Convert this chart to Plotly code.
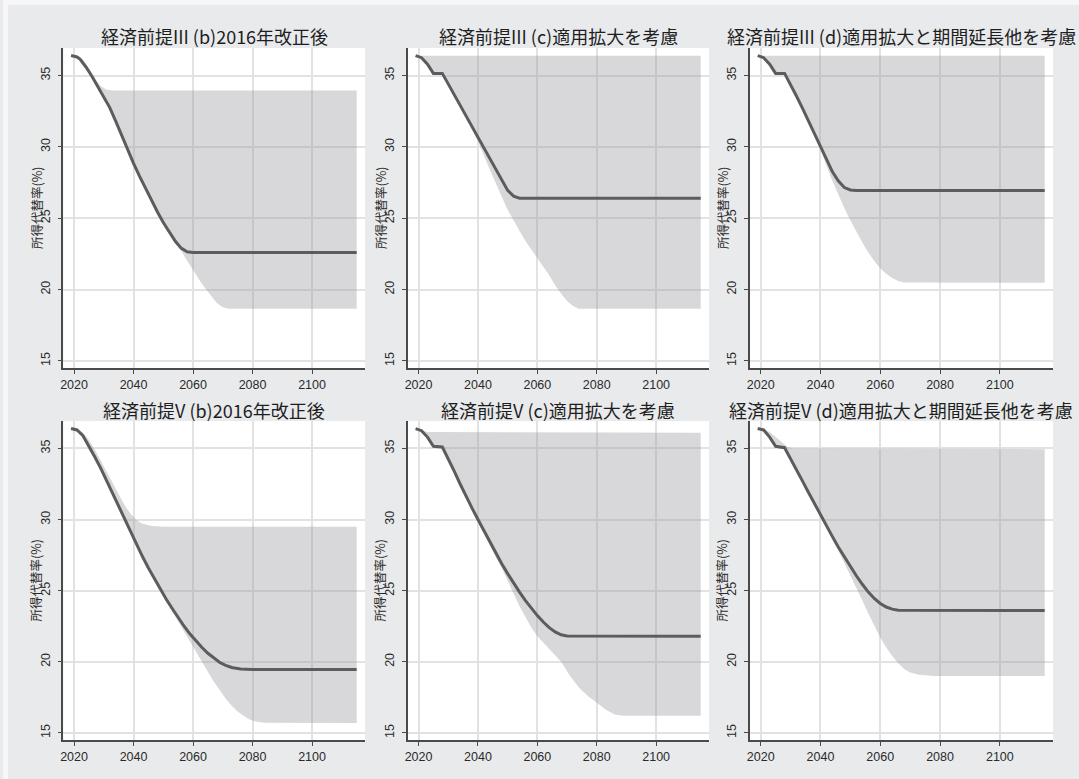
import plotly.graph_objects as go

W, H = 1079, 779

TITLES = [
    "経済前提III (b)2016年改正後",
    "経済前提III (c)適用拡大を考慮",
    "経済前提III (d)適用拡大と期間延長他を考慮",
    "経済前提V (b)2016年改正後",
    "経済前提V (c)適用拡大を考慮",
    "経済前提V (d)適用拡大と期間延長他を考慮",
]
Y_TITLE = "所得代替率(%)"
X_TICKS = [2020, 2040, 2060, 2080, 2100]
Y_TICKS = [15, 20, 25, 30, 35]

# ---- Panel 1: III (b)
P1_LINE_X = [2019, 2021, 2022, 2024, 2026, 2028, 2030, 2032, 2034, 2036, 2038, 2040, 2042, 2044, 2046, 2048, 2050, 2052, 2054, 2056, 2058, 2060, 2115]
P1_LINE_Y = [36.4, 36.3, 36.15, 35.6, 34.95, 34.25, 33.5, 32.75, 31.8, 30.8, 29.8, 28.85, 27.95, 27.1, 26.25, 25.45, 24.7, 24.0, 23.4, 22.9, 22.65, 22.6, 22.6]
P1_UP_X = [2019, 2021, 2023, 2025, 2027, 2029, 2031, 2033, 2115]
P1_UP_Y = [36.4, 36.35, 36.1, 35.5, 34.8, 34.25, 34.0, 33.95, 33.95]
P1_LO_X = [2019, 2021, 2022, 2024, 2026, 2028, 2030, 2032, 2034, 2036, 2038, 2040, 2042, 2044, 2046, 2048, 2050, 2052, 2054, 2056, 2058, 2060, 2062, 2064, 2066, 2068, 2070, 2072, 2115]
P1_LO_Y = [36.35, 36.2, 36.05, 35.5, 34.85, 34.15, 33.4, 32.65, 31.7, 30.7, 29.7, 28.75, 27.85, 27.0, 26.15, 25.35, 24.6, 23.9, 23.25, 22.7, 22.1, 21.4, 20.7, 20.1, 19.55, 19.05, 18.75, 18.65, 18.65]

# ---- Panel 2: III (c)
P2_LINE_X = [2019, 2021, 2023, 2025, 2028, 2030, 2032, 2034, 2036, 2038, 2040, 2042, 2044, 2046, 2048, 2050, 2052, 2054, 2115]
P2_LINE_Y = [36.4, 36.25, 35.8, 35.15, 35.15, 34.4, 33.65, 32.9, 32.1, 31.35, 30.6, 29.85, 29.1, 28.35, 27.6, 26.95, 26.55, 26.4, 26.4]
P2_UP_X = [2019, 2115]
P2_UP_Y = [36.38, 36.38]
P2_LO_X = [2019, 2021, 2023, 2025, 2028, 2030, 2032, 2034, 2036, 2038, 2040, 2042, 2044, 2046, 2048, 2050, 2052, 2054, 2056, 2058, 2060, 2062, 2064, 2066, 2068, 2070, 2072, 2074, 2115]
P2_LO_Y = [36.35, 36.15, 35.7, 35.05, 35.05, 34.3, 33.55, 32.8, 32.0, 31.2, 30.4, 29.4, 28.4, 27.4, 26.5, 25.6, 24.8, 24.1, 23.4, 22.8, 22.2, 21.6, 21.0, 20.3, 19.7, 19.2, 18.85, 18.65, 18.65]

# ---- Panel 3: III (d)
P3_LINE_X = [2019, 2021, 2023, 2025, 2028, 2030, 2032, 2034, 2036, 2038, 2040, 2042, 2044, 2046, 2048, 2050, 2052, 2115]
P3_LINE_Y = [36.4, 36.25, 35.8, 35.15, 35.15, 34.4, 33.55, 32.7, 31.8, 30.9, 30.0, 29.1, 28.25, 27.6, 27.15, 26.98, 26.95, 26.95]
P3_UP_X = [2019, 2115]
P3_UP_Y = [36.38, 36.38]
P3_LO_X = [2019, 2021, 2023, 2025, 2028, 2030, 2032, 2034, 2036, 2038, 2040, 2042, 2044, 2046, 2048, 2050, 2052, 2054, 2056, 2058, 2060, 2062, 2064, 2066, 2068, 2115]
P3_LO_Y = [36.35, 36.15, 35.7, 35.05, 35.05, 34.3, 33.45, 32.6, 31.7, 30.8, 29.85, 28.7, 27.6, 26.6, 25.7, 24.85, 24.05, 23.3, 22.6, 22.0, 21.5, 21.1, 20.8, 20.6, 20.5, 20.48]

# ---- Panel 4: V (b)
P4_LINE_X = [2019, 2021, 2023, 2025, 2027, 2029, 2031, 2033, 2035, 2037, 2039, 2041, 2043, 2045, 2047, 2049, 2051, 2053, 2055, 2057, 2059, 2061, 2063, 2065, 2067, 2069, 2071, 2073, 2076, 2080, 2115]
P4_LINE_Y = [36.4, 36.3, 35.9, 35.2, 34.4, 33.6, 32.7, 31.8, 30.9, 30.0, 29.1, 28.25, 27.4, 26.6, 25.85, 25.1, 24.4, 23.75, 23.1, 22.5, 21.95, 21.45, 21.0, 20.6, 20.25, 19.95, 19.75, 19.6, 19.5, 19.45, 19.45]
P4_UP_X = [2019, 2021, 2023, 2025, 2027, 2029, 2031, 2033, 2035, 2037, 2039, 2041, 2043, 2046, 2050, 2115]
P4_UP_Y = [36.4, 36.35, 36.1, 35.6, 34.9, 34.1, 33.3, 32.5, 31.7, 31.0, 30.4, 29.95, 29.7, 29.55, 29.5, 29.5]
P4_LO_X = [2019, 2021, 2023, 2025, 2027, 2029, 2031, 2033, 2035, 2037, 2039, 2041, 2043, 2045, 2047, 2049, 2051, 2053, 2055, 2057, 2059, 2061, 2063, 2065, 2067, 2069, 2071, 2073, 2075, 2077, 2079, 2081, 2084, 2115]
P4_LO_Y = [36.35, 36.2, 35.8, 35.05, 34.25, 33.45, 32.55, 31.65, 30.75, 29.85, 28.95, 28.1, 27.25, 26.45, 25.7, 24.95, 24.25, 23.55, 22.85, 22.15, 21.4, 20.7, 20.0, 19.3, 18.6, 18.0, 17.4, 16.9, 16.5, 16.2, 15.95, 15.8, 15.72, 15.7]

# ---- Panel 5: V (c)
P5_LINE_X = [2019, 2021, 2023, 2025, 2028, 2030, 2032, 2034, 2036, 2038, 2040, 2042, 2044, 2046, 2048, 2050, 2052, 2054, 2056, 2058, 2060, 2062, 2064, 2066, 2068, 2070, 2115]
P5_LINE_Y = [36.4, 36.25, 35.8, 35.15, 35.1, 34.3, 33.4, 32.5, 31.6, 30.8, 30.0, 29.2, 28.4, 27.6, 26.9, 26.2, 25.5, 24.9, 24.3, 23.75, 23.25, 22.8, 22.4, 22.1, 21.9, 21.82, 21.8]
P5_UP_X = [2019, 2021, 2023, 2115]
P5_UP_Y = [36.4, 36.25, 36.15, 36.1]
P5_LO_X = [2019, 2021, 2023, 2025, 2028, 2030, 2032, 2034, 2036, 2038, 2040, 2042, 2044, 2046, 2048, 2050, 2052, 2054, 2056, 2058, 2060, 2064, 2068, 2071, 2074, 2077, 2080, 2083, 2086, 2089, 2115]
P5_LO_Y = [36.35, 36.15, 35.7, 35.05, 35.0, 34.2, 33.3, 32.4, 31.5, 30.7, 29.85, 29.0, 28.15, 27.35, 26.6, 25.7, 24.8, 23.9, 23.1, 22.4, 21.8, 20.9, 20.0, 19.0, 18.2, 17.6, 17.1, 16.65, 16.3, 16.2, 16.2]

# ---- Panel 6: V (d)
P6_LINE_X = [2019, 2021, 2023, 2025, 2028, 2030, 2032, 2034, 2036, 2038, 2040, 2042, 2044, 2046, 2048, 2050, 2052, 2054, 2056, 2058, 2060, 2062, 2064, 2066, 2115]
P6_LINE_Y = [36.4, 36.3, 35.8, 35.15, 35.05, 34.3, 33.5, 32.7, 31.9, 31.1, 30.3, 29.55, 28.8, 28.05, 27.35, 26.7, 26.05, 25.45, 24.9, 24.45, 24.1, 23.85, 23.7, 23.62, 23.6]
P6_UP_X = [2019, 2021, 2023, 2025, 2027, 2029, 2031, 2115]
P6_UP_Y = [36.4, 36.35, 36.15, 35.8, 35.4, 35.1, 35.0, 34.95]
P6_LO_X = [2019, 2021, 2023, 2025, 2028, 2030, 2032, 2034, 2036, 2038, 2040, 2042, 2044, 2046, 2048, 2050, 2052, 2054, 2056, 2058, 2060, 2062, 2064, 2066, 2068, 2070, 2073, 2078, 2115]
P6_LO_Y = [36.35, 36.2, 35.7, 35.05, 34.95, 34.2, 33.4, 32.6, 31.8, 31.0, 30.2, 29.4, 28.6, 27.8, 27.0, 26.1, 25.2, 24.3, 23.4, 22.5, 21.7, 21.0, 20.4, 19.9, 19.5, 19.25, 19.08, 19.0, 19.0]

PANELS = [
    (P1_LINE_X, P1_LINE_Y, P1_UP_X, P1_UP_Y, P1_LO_X, P1_LO_Y),
    (P2_LINE_X, P2_LINE_Y, P2_UP_X, P2_UP_Y, P2_LO_X, P2_LO_Y),
    (P3_LINE_X, P3_LINE_Y, P3_UP_X, P3_UP_Y, P3_LO_X, P3_LO_Y),
    (P4_LINE_X, P4_LINE_Y, P4_UP_X, P4_UP_Y, P4_LO_X, P4_LO_Y),
    (P5_LINE_X, P5_LINE_Y, P5_UP_X, P5_UP_Y, P5_LO_X, P5_LO_Y),
    (P6_LINE_X, P6_LINE_Y, P6_UP_X, P6_UP_Y, P6_LO_X, P6_LO_Y),
]

# layout geometry (pixels)
COLS = [(60.5, 363), (406, 708), (749, 1053)]
ROWS = [(48, 368), (421, 740)]
TITLE_Y = [36, 410]
YTITLE_X = [33, 378, 721]

BG = "#e9eaec"
AXIS_COLOR = "#4a4a4a"
GRID = "#e2e2e2"
SHADE = "rgba(148,150,158,0.37)"
LINE = "#5c5c5c"
TICK_FONT = dict(family="Liberation Sans, Arial, sans-serif", size=12.5, color="#2a2a2a")
CJK = "Noto Sans CJK JP, sans-serif"

fig = go.Figure()
layout = dict(
    width=W, height=H, autosize=False,
    margin=dict(l=0, r=0, t=0, b=0),
    paper_bgcolor=BG, plot_bgcolor="white",
    showlegend=False,
    annotations=[], shapes=[],
)

for i, (lx, ly, ux, uy, ox, oy) in enumerate(PANELS):
    r, c = divmod(i, 3)
    n = "" if i == 0 else str(i + 1)
    xa, ya = "x" + n, "y" + n
    poly_x = list(ux) + list(reversed(ox))
    poly_y = list(uy) + list(reversed(oy))
    fig.add_trace(go.Scatter(x=poly_x, y=poly_y, mode="lines", fill="toself",
                             fillcolor=SHADE, line=dict(width=0),
                             hoverinfo="skip", xaxis=xa, yaxis=ya))
    fig.add_trace(go.Scatter(x=lx, y=ly, mode="lines",
                             line=dict(color=LINE, width=3),
                             xaxis=xa, yaxis=ya))
    x0, x1 = COLS[c]
    top, bot = ROWS[r]
    layout["xaxis" + n] = dict(
        domain=[x0 / W, x1 / W], anchor=ya, range=[2016.4, 2117.8],
        tickvals=X_TICKS, showgrid=True, gridcolor=GRID, gridwidth=1.5,
        showline=True, linecolor=AXIS_COLOR, linewidth=1.5,
        ticks="outside", ticklen=4, tickcolor=AXIS_COLOR, tickwidth=1,
        tickfont=TICK_FONT, zeroline=False, fixedrange=True,
    )
    layout["yaxis" + n] = dict(
        domain=[(H - bot) / H, (H - top) / H], anchor=xa, range=[14.5, 36.93],
        tickvals=Y_TICKS, tickangle=-90, showgrid=True, gridcolor=GRID, gridwidth=1.5,
        showline=True, linecolor=AXIS_COLOR, linewidth=1.5,
        ticks="outside", ticklen=4, tickcolor=AXIS_COLOR, tickwidth=1,
        ticklabelstandoff=3,
        tickfont=TICK_FONT, zeroline=False, fixedrange=True,
    )
    layout["annotations"].append(dict(
        text=TITLES[i], xref="paper", yref="paper",
        x=(x0 + x1) / 2 / W, y=(H - TITLE_Y[r]) / H,
        xanchor="center", yanchor="middle", showarrow=False,
        font=dict(family=CJK, size=18, color="#1e1e1e"),
    ))
    layout["annotations"].append(dict(
        text=Y_TITLE, xref="paper", yref="paper",
        x=YTITLE_X[c] / W, y=(H - (top + bot) / 2) / H,
        xanchor="center", yanchor="middle", textangle=-90, showarrow=False,
        font=dict(family=CJK, size=12.5, color="#2a2a2a"),
    ))

# thin lighter frame along the top and left edges
layout["shapes"] = [
    dict(type="rect", xref="paper", yref="paper", x0=0, x1=1, y0=(H - 5) / H, y1=1,
         fillcolor="#f7f7f7", line=dict(width=0), layer="below"),
    dict(type="rect", xref="paper", yref="paper", x0=0, x1=5 / W, y0=0, y1=1,
         fillcolor="#f7f7f7", line=dict(width=0), layer="below"),
]

fig.update_layout(**layout)
fig.write_html("out.html")
